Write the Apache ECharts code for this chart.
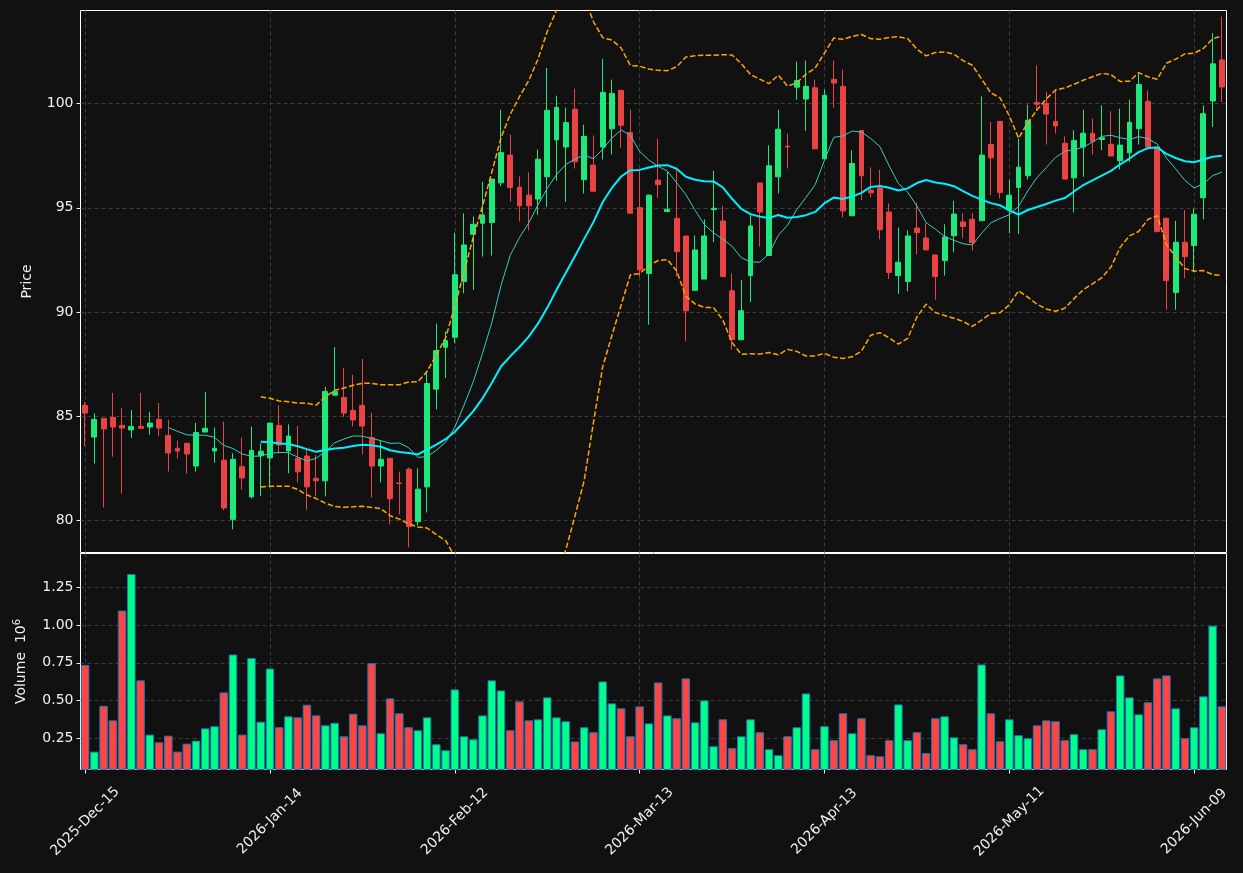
<!DOCTYPE html>
<html>
<head>
<meta charset="utf-8">
<script src="https://cdn.jsdelivr.net/npm/echarts@6/dist/echarts.min.js"></script>
<style>
  html, body { margin: 0; padding: 0; background: #111111; }
  #chart { width: 1243px; height: 873px; }
</style>
</head>
<body>
<div id="chart"></div>
<script>
// daily bars
const opens = [
  85.52, 84.00, 84.90, 84.94, 84.56, 84.34, 84.51, 84.48, 84.85, 84.08,
  83.46, 83.70, 82.61, 84.24, 83.33, 82.89, 80.05, 82.58, 81.13, 83.11,
  83.00, 84.56, 83.33, 82.98, 83.09, 82.02, 81.90, 86.01, 85.90, 85.28,
  85.52, 83.97, 82.61, 82.98, 81.80, 82.46, 79.94, 81.61, 86.30, 88.31,
  88.79, 91.46, 93.73, 94.26, 94.29, 96.20, 97.53, 95.99, 95.61, 95.42,
  96.49, 98.26, 97.92, 99.73, 96.35, 97.05, 97.92, 98.79, 100.64, 98.61,
  95.01, 91.85, 96.33, 94.82, 94.50, 93.65, 91.04, 91.58, 94.92, 94.37,
  91.02, 88.67, 91.75, 96.19, 92.71, 96.49, 97.96, 100.79, 100.22, 100.76,
  97.35, 101.16, 100.83, 94.62, 98.71, 95.85, 95.95, 94.80, 91.75, 91.46,
  94.03, 93.55, 92.74, 92.47, 93.66, 94.32, 94.45, 94.38, 98.04, 99.15,
  94.90, 95.98, 96.54, 100.06, 100.01, 99.15, 98.10, 96.44, 97.92, 98.58,
  98.28, 98.05, 97.26, 97.64, 98.80, 100.11, 97.92, 94.50, 90.94, 93.35,
  93.19, 95.48, 100.13, 102.10
];
const highs = [
  85.69, 85.13, 84.90, 86.12, 85.41, 85.29, 86.12, 85.21, 85.64, 84.83,
  83.83, 83.70, 84.69, 86.17, 84.45, 84.74, 83.22, 83.97, 84.50, 83.70,
  84.70, 85.52, 84.61, 84.53, 83.38, 83.14, 86.41, 88.32, 87.32, 86.99,
  87.75, 85.17, 83.81, 82.98, 82.34, 82.54, 82.50, 87.16, 89.44, 89.07,
  93.81, 94.74, 94.58, 96.25, 96.38, 99.71, 98.52, 96.51, 96.70, 97.80,
  101.71, 100.38, 99.81, 100.72, 98.99, 98.47, 102.15, 101.15, 100.64, 99.71,
  96.81, 95.64, 98.32, 96.73, 96.81, 93.65, 93.68, 94.45, 96.78, 95.09,
  91.86, 91.55, 94.70, 96.19, 98.00, 99.71, 98.56, 102.02, 102.07, 101.15,
  100.67, 102.07, 101.63, 97.76, 98.71, 96.94, 96.82, 95.21, 94.06, 93.92,
  95.25, 94.26, 92.74, 94.21, 95.34, 94.74, 94.74, 100.35, 99.12, 99.15,
  96.36, 98.32, 99.95, 101.83, 100.56, 100.68, 98.43, 98.72, 99.71, 99.28,
  99.92, 99.63, 99.76, 100.19, 101.43, 100.64, 97.92, 94.50, 94.38, 94.89,
  94.97, 99.92, 103.38, 104.18
];
const lows = [
  83.57, 82.73, 80.62, 83.06, 81.29, 83.95, 84.42, 84.11, 84.05, 82.34,
  82.97, 82.25, 82.34, 84.24, 82.77, 80.49, 79.57, 81.48, 81.05, 81.18,
  81.58, 83.20, 82.26, 81.82, 80.51, 81.15, 81.15, 86.01, 84.97, 84.50,
  83.16, 81.10, 81.82, 79.81, 80.29, 78.71, 79.75, 80.38, 85.33, 86.84,
  88.50, 90.90, 91.06, 92.66, 92.71, 96.04, 95.29, 94.35, 93.91, 94.66,
  95.05, 96.30, 95.29, 96.89, 95.69, 95.77, 97.32, 97.56, 97.89, 94.74,
  91.70, 89.39, 95.48, 94.82, 91.70, 88.59, 91.04, 91.58, 93.35, 91.70,
  88.20, 88.67, 90.48, 93.14, 92.71, 95.69, 96.89, 100.19, 98.69, 97.83,
  97.35, 99.81, 94.54, 94.62, 95.37, 95.50, 93.49, 91.58, 90.87, 90.99,
  92.77, 92.98, 90.59, 91.75, 92.87, 93.54, 92.95, 94.38, 95.61, 95.45,
  93.78, 93.75, 96.36, 99.65, 98.04, 98.56, 96.38, 94.78, 96.49, 97.56,
  97.77, 97.49, 96.84, 97.21, 98.04, 97.80, 93.81, 90.11, 90.11, 91.62,
  91.94, 94.45, 98.88, 100.08
];
const closes = [
  85.15, 84.85, 84.39, 84.48, 84.43, 84.51, 84.42, 84.67, 84.43, 83.24,
  83.33, 83.19, 84.22, 84.42, 83.46, 80.60, 82.93, 82.04, 83.36, 83.32,
  84.67, 83.62, 84.05, 82.33, 81.61, 81.90, 86.19, 86.19, 85.15, 84.82,
  84.53, 82.61, 82.93, 81.04, 81.77, 79.70, 81.50, 86.57, 88.15, 88.63,
  91.79, 93.22, 94.21, 94.66, 96.38, 97.65, 95.98, 95.10, 95.10, 97.33,
  99.68, 99.82, 99.09, 97.21, 98.43, 95.80, 100.54, 100.49, 98.96, 94.74,
  92.02, 95.61, 96.11, 94.93, 92.90, 90.06, 92.98, 93.65, 94.98, 91.70,
  88.67, 90.06, 94.13, 94.80, 97.02, 98.77, 97.92, 101.11, 100.83, 97.83,
  100.40, 100.99, 94.85, 97.13, 96.54, 95.72, 93.95, 91.90, 92.39, 93.65,
  93.81, 92.98, 91.70, 93.60, 94.70, 94.10, 93.33, 97.53, 97.40, 95.74,
  95.61, 96.95, 99.20, 99.97, 99.50, 98.93, 96.38, 98.24, 98.58, 98.18,
  98.36, 97.49, 98.01, 99.10, 100.92, 97.92, 93.87, 91.51, 93.35, 92.66,
  94.69, 99.52, 101.91, 100.80
];
// volume in millions
const volumes = [
  0.736, 0.159, 0.464, 0.367, 1.097, 1.340, 0.633, 0.272, 0.221, 0.265,
  0.159, 0.212, 0.232, 0.314, 0.328, 0.553, 0.805, 0.272, 0.782, 0.358,
  0.712, 0.321, 0.394, 0.387, 0.471, 0.400, 0.334, 0.351, 0.261, 0.411,
  0.334, 0.747, 0.281, 0.513, 0.414, 0.321, 0.301, 0.387, 0.208, 0.168,
  0.573, 0.261, 0.241, 0.400, 0.633, 0.566, 0.301, 0.493, 0.367, 0.374,
  0.520, 0.387, 0.361, 0.226, 0.321, 0.288, 0.626, 0.480, 0.447, 0.261,
  0.460, 0.347, 0.619, 0.400, 0.381, 0.646, 0.354, 0.500, 0.195, 0.374,
  0.182, 0.261, 0.374, 0.288, 0.175, 0.135, 0.261, 0.321, 0.546, 0.175,
  0.328, 0.235, 0.414, 0.281, 0.381, 0.135, 0.128, 0.235, 0.473, 0.235,
  0.288, 0.149, 0.381, 0.394, 0.254, 0.208, 0.175, 0.739, 0.414, 0.228,
  0.374, 0.268, 0.248, 0.334, 0.367, 0.361, 0.235, 0.275, 0.175, 0.175,
  0.308, 0.427, 0.666, 0.520, 0.407, 0.487, 0.646, 0.666, 0.447, 0.248,
  0.321, 0.527, 0.997, 0.460
];

// trading calendar (NYSE holidays skipped)
const firstDay = '2025-12-15';
const holidays = ['2025-12-25', '2026-01-01', '2026-01-19', '2026-02-16', '2026-04-03', '2026-05-25'];
const monthNames = ['Jan', 'Feb', 'Mar', 'Apr', 'May', 'Jun', 'Jul', 'Aug', 'Sep', 'Oct', 'Nov', 'Dec'];
const labelEvery = 20;

function tradingDays(start, n) {
  const out = [];
  const d = new Date(start + 'T00:00:00Z');
  while (out.length < n) {
    const iso = d.toISOString().slice(0, 10);
    const wd = d.getUTCDay();
    if (wd !== 0 && wd !== 6 && holidays.indexOf(iso) < 0) {
      out.push(d.getUTCFullYear() + '-' + monthNames[d.getUTCMonth()] + '-' + String(d.getUTCDate()).padStart(2, '0'));
    }
    d.setUTCDate(d.getUTCDate() + 1);
  }
  return out;
}
const dates = tradingDays(firstDay, closes.length);

// moving averages and bollinger bands from the closes
const mean = a => a.reduce((s, v) => s + v, 0) / a.length;
const std = a => {
  const m = mean(a);
  return Math.sqrt(a.reduce((s, v) => s + (v - m) * (v - m), 0) / (a.length - 1));
};
function rolling(arr, n, fn) {
  return arr.map((v, i) => i < n - 1 ? '-' : +fn(arr.slice(i - n + 1, i + 1)).toFixed(3));
}
const ma10 = rolling(closes, 10, mean);
const ma20 = rolling(closes, 20, mean);
const bbUpper = rolling(closes, 20, a => mean(a) + 2 * std(a));
const bbLower = rolling(closes, 20, a => mean(a) - 2 * std(a));

const UP = '#1ee87c', DOWN = '#e94343';
const VOL_UP = '#00ff88', VOL_DOWN = '#ff4444';
const textColor = '#f0f0f0';
const gridLine = { color: '#3c3c3c', type: [4, 3], width: 1 };
const font = 'DejaVu Sans';
const everyN = idx => idx % labelEvery === 0;

const chart = echarts.init(document.getElementById('chart'));
chart.setOption({
  backgroundColor: '#111111',
  animation: false,
  grid: [
    { left: 80.5, right: 16.5, top: 10.5, height: 542, show: true, borderColor: '#ffffff', borderWidth: 1 },
    { left: 80.5, right: 16.5, top: 553.5, height: 216, show: true, borderColor: '#ffffff', borderWidth: 1 }
  ],
  xAxis: [{
    type: 'category',
    gridIndex: 0,
    data: dates,
    boundaryGap: true,
    axisLine: { show: false },
    axisTick: { show: false },
    axisLabel: { show: false },
    splitLine: { show: true, interval: everyN, alignWithLabel: true, lineStyle: gridLine }
  }, {
    type: 'category',
    gridIndex: 1,
    data: dates,
    boundaryGap: true,
    axisLine: { show: false },
    axisTick: { show: true, interval: everyN, alignWithLabel: true, length: 4, lineStyle: { color: textColor } },
    axisLabel: {
      interval: everyN, rotate: 45, margin: 52, align: 'center', verticalAlign: 'middle',
      color: textColor, fontSize: 14, fontFamily: font
    },
    splitLine: { show: true, interval: everyN, alignWithLabel: true, lineStyle: gridLine }
  }],
  yAxis: [{
    type: 'value',
    gridIndex: 0,
    min: 78.46,
    max: 104.47,
    minInterval: 5,
    maxInterval: 5,
    name: 'Price',
    nameLocation: 'middle',
    nameGap: 46,
    nameTextStyle: { color: textColor, fontSize: 14, fontFamily: font },
    axisLine: { show: false },
    axisTick: { show: true, length: 4, lineStyle: { color: textColor } },
    axisLabel: { color: textColor, fontSize: 14, fontFamily: font, margin: 7, showMinLabel: false, showMaxLabel: false },
    splitLine: { show: true, showMinLine: false, showMaxLine: false, lineStyle: gridLine }
  }, {
    type: 'value',
    gridIndex: 1,
    min: 0.04,
    max: 1.477,
    minInterval: 0.25,
    maxInterval: 0.25,
    name: 'Volume  10{sup|6}',
    nameLocation: 'middle',
    nameGap: 50,
    nameTextStyle: {
      color: textColor, fontSize: 14, fontFamily: font,
      rich: { sup: { color: textColor, fontSize: 10, fontFamily: font, verticalAlign: 'top', padding: [0, 0, 8, 0] } }
    },
    axisLine: { show: false },
    axisTick: { show: true, length: 4, lineStyle: { color: textColor } },
    axisLabel: {
      color: textColor, fontSize: 14, fontFamily: font, margin: 7,
      showMinLabel: false, showMaxLabel: false,
      formatter: v => v.toFixed(2)
    },
    splitLine: { show: true, showMinLine: false, showMaxLine: false, lineStyle: gridLine }
  }],
  series: [{
    name: 'OHLC',
    type: 'candlestick',
    xAxisIndex: 0,
    yAxisIndex: 0,
    barWidth: '58%',
    data: opens.map((o, i) => [o, closes[i], lows[i], highs[i]]),
    itemStyle: { color: UP, color0: DOWN, borderColor: UP, borderColor0: DOWN, borderWidth: 1 }
  }, {
    name: 'MA10',
    type: 'line',
    data: ma10,
    symbol: 'none',
    lineStyle: { color: '#40c9c0', width: 1 },
    z: 3
  }, {
    name: 'MA20',
    type: 'line',
    data: ma20,
    symbol: 'none',
    lineStyle: { color: '#00f0ff', width: 2 },
    z: 3
  }, {
    name: 'BB upper',
    type: 'line',
    data: bbUpper,
    symbol: 'none',
    lineStyle: { color: '#ffa500', width: 1.5, type: [5.5, 2.4] },
    z: 3
  }, {
    name: 'BB lower',
    type: 'line',
    data: bbLower,
    symbol: 'none',
    lineStyle: { color: '#ffa500', width: 1.5, type: [5.5, 2.4] },
    z: 3
  }, {
    name: 'Volume',
    type: 'bar',
    xAxisIndex: 1,
    yAxisIndex: 1,
    barWidth: '92%',
    data: volumes.map((v, i) => ({
      value: v,
      itemStyle: { color: closes[i] >= opens[i] ? VOL_UP : VOL_DOWN }
    })),
    itemStyle: { borderColor: '#1f77b4', borderWidth: 1 }
  }]
});
</script>
</body>
</html>
